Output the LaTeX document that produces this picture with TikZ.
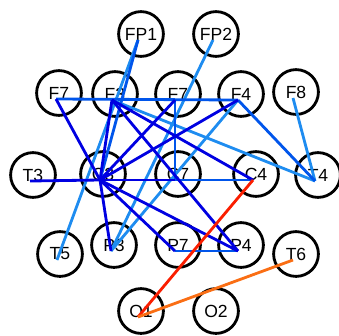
\documentclass[tikz,border=0pt]{standalone}
\usepackage{fontspec}
\setmainfont{Liberation Sans}
\usetikzlibrary{positioning}
\definecolor{cnDark}{RGB}{0,0,225}
\definecolor{cnMid}{RGB}{0,85,235}
\definecolor{cnLight}{RGB}{30,140,240}
\definecolor{cnRed}{RGB}{250,30,0}
\definecolor{cnOrange}{RGB}{250,110,20}

\begin{document}
\begin{tikzpicture}[x=0.025cm, y=-0.025cm,
    ring/.style={circle, draw=black, line width=2pt, minimum size=1.12cm,
                 inner sep=0pt, xshift=0.075cm, yshift=0.15cm,
                 font=\fontsize{12.5}{14}\selectfont},
    el/.style={inner sep=0pt, minimum size=0pt, label={[ring]center:#1}},
    dk/.style={cnDark, line width=2pt},
    md/.style={cnMid, line width=2pt},
    lt/.style={cnLight, line width=2pt}]
    \useasboundingbox (0,0) rectangle (339,335);
    % electrodes
    \node[el=FP1] (fp1) at (138,40) {};
    \node[el=FP2] (fp2) at (213,40) {};
    \node[el=F7] (f7) at (56,99) {};
    \node[el=F3] (f3) at (112,100) {};
    \node[el=F7] (fz) at (175,100) {};
    \node[el=F4] (f4) at (238,100) {};
    \node[el=F8] (f8) at (293,98) {};
    \node[el=T3] (t3) at (30,181) {};
    \node[el=C3] (c3) at (100,180) {};
    \node[el=C7] (cz) at (175,180) {};
    \node[el=C4] (c4) at (253,180) {};
    \node[el=T4] (t4) at (315,181) {};
    \node[el=T5] (t5) at (57,260) {};
    \node[el=P3] (p3) at (111,251) {};
    \node[el=P7] (pz) at (175,251) {};
    \node[el=P4] (p4) at (238,251) {};
    \node[el=T6] (t6) at (293,260) {};
    \node[el=O1] (o1) at (138,317) {};
    \node[el=O2] (o2) at (213,317) {};
    % light links
    \draw[lt] (fp2.center) -- (p3.center);
    \draw[lt] (f4.center) -- (p3.center);
    \draw[lt] (f3.center) -- (t4.center);
    \draw[lt] (f8.center) -- (t4.center);
    \draw[lt] (fp1.center) -- (t5.center);
    % mid links
    \draw[md] (f7.center) -- (f4.center);
    \draw[md] (fp1.center) -- (c3.center);
    \draw[md] (fz.center) -- (cz.center);
    \draw[md] (cz.center) -- (c4.center);
    \draw[md] (f4.center) -- (t4.center);
    \draw[md] (pz.center) -- (p4.center);
    % dark links
    \draw[dk] (t3.center) -- (c3.center);
    \draw[dk] (c3.center) -- (cz.center);
    \draw[dk] (f7.center) -- (c3.center);
    \draw[dk] (f3.center) -- (c3.center);
    \draw[dk] (fz.center) -- (c3.center);
    \draw[dk] (f4.center) -- (c3.center);
    \draw[dk] (f3.center) -- (c4.center);
    \draw[dk] (f3.center) -- (p4.center);
    \draw[dk] (c3.center) -- (p3.center);
    \draw[dk] (c3.center) -- (pz.center);
    \draw[dk] (c3.center) -- (p4.center);
    % occipital links
    \draw[cnRed, line width=2pt] (c4.center) -- (o1.center);
    \draw[cnOrange, line width=2pt] (t6.center) -- (o1.center);
\end{tikzpicture}
\end{document}
